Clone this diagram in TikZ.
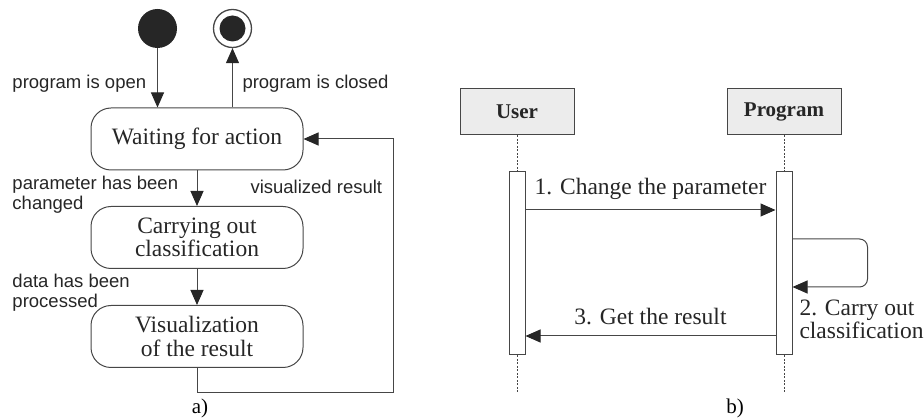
\documentclass[tikz,border=0pt]{standalone}
\usepackage{fontspec}
\setmainfont{Liberation Serif}
\setsansfont{Liberation Sans}
\usetikzlibrary{arrows.meta, positioning}
\definecolor{linegray}{RGB}{70,70,70}
\definecolor{textgray}{RGB}{38,38,38}
\definecolor{headgray}{RGB}{236,236,236}

\begin{document}
\begin{tikzpicture}[x=1pt, y=-1pt, line width=1pt, >={Triangle[length=15pt,width=13pt,color=textgray]}]
  % Styles for the two diagrams
  \tikzset{state/.style={draw=linegray, rounded corners=20pt, minimum width=212pt, minimum height=62pt, inner sep=0pt, align=center, text=textgray, font=\fontsize{23.5}{23.5}\selectfont}}
  \tikzset{trans/.style={text=textgray, inner sep=0pt, align=left, font=\sffamily\fontsize{18.5}{20}\selectfont}}
  \tikzset{actor/.style={draw=linegray, fill=headgray, minimum width=114pt, minimum height=46pt, inner sep=0pt, text=textgray, font=\bfseries\fontsize{21}{21}\selectfont}}
  \tikzset{actbar/.style={draw=linegray, fill=white, minimum width=16pt, minimum height=183pt, inner sep=0pt}}
  \tikzset{lifeline/.style={draw=linegray, dash pattern=on 2pt off 1.5pt}}
  \tikzset{msg/.style={text=textgray, inner sep=0pt, font=\fontsize{23.5}{23.5}\selectfont}}
  \tikzset{caption/.style={text=black, inner sep=0pt, font=\fontsize{21}{21}\selectfont}}
  \tikzset{conn/.style={->, draw=linegray}}

  \useasboundingbox (0,0) rectangle (924,419);

  % --- a) state diagram ---
  \node[circle, fill=textgray, minimum size=39pt, inner sep=0pt] (start) at (157.5,28.5) {};
  \node[circle, draw=linegray, fill=white, minimum size=38pt, inner sep=0pt, line width=1.3pt] (stop) at (232.5,28.5) {};
  \node[circle, fill=textgray, minimum size=26pt, inner sep=0pt] (stopdot) at (stop) {};

  \node[state] (wait)   at (197,139)   {Waiting for action};
  \node[state] (carry)  at (197,237.5) {Carrying out\\classification};
  \node[state] (visual) at (197,336.5) {Visualization\\of the result};

  \draw[conn] (start.south) -- (start.south |- wait.north);
  \draw[conn] (wait.north -| stop) -- (stop.south);
  \draw[conn] (wait) -- (carry);
  \draw[conn] (carry) -- (visual);
  \coordinate (loopturn) at (393,393);
  \draw[conn] (visual.south) |- (loopturn) |- (wait.east);

  \node[trans, anchor=base west] (lopen)   at (12,89)  {program is open};
  \node[trans, anchor=base west] (lclosed) at (242,89) {program is closed};
  \node[trans, anchor=north west] (lchanged) at (12,175.5) {parameter has been\\changed};
  \node[trans, anchor=base west] (lresult) at (250,194) {visualized result};
  \node[trans, anchor=north west] (lprocessed) at (12,273.5) {data has been\\processed};

  \node[caption] (capa) at (200,408) {a)};

  % --- b) sequence diagram ---
  \node[actor] (user) at (517,112) {User};
  \node[actor] (prog) at (784,112) {Program};

  \node[actbar] (uact) at (517,263.5) {};
  \node[actbar] (pact) at (784,263.5) {};

  \coordinate (uend) at (517,393);
  \coordinate (pend) at (784,393);
  \draw[lifeline] (user.south) -- (uact.north);
  \draw[lifeline] (prog.south) -- (pact.north);
  \draw[lifeline] (uact.south) -- (uend);
  \draw[lifeline] (pact.south) -- (pend);

  \draw[conn] (uact.east |- 0,210) -- node[msg, above=10pt] (m1) {1. Change the parameter} (pact.west |- 0,210);
  \draw[conn, rounded corners=8pt] (pact.east |- 0,239) -- ++(75,0) -- ++(0,48) -- (pact.east |- 0,287);
  \node[msg, anchor=north west, align=left] (m2) at (799,299) {2. Carry out\\classification};
  \draw[conn] (pact.west |- 0,336) -- node[msg, above=11pt] (m3) {3. Get the result} (uact.east |- 0,336);

  \node[caption] (capb) at (735,408) {b)};
\end{tikzpicture}
\end{document}
